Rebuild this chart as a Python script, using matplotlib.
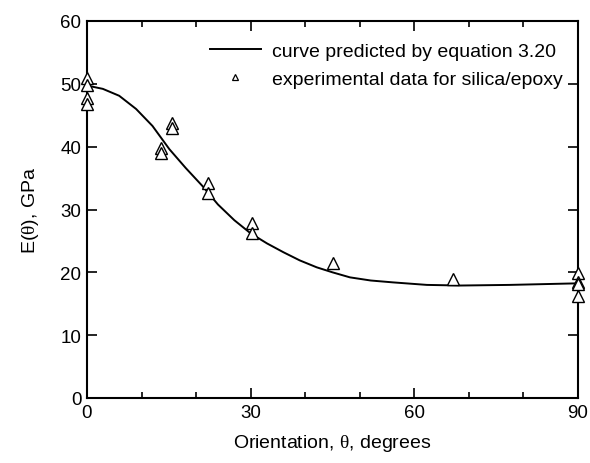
import matplotlib
matplotlib.use("Agg")
import matplotlib.pyplot as plt
from matplotlib.lines import Line2D
from matplotlib.ticker import MultipleLocator

plt.rcParams["font.family"] = ["Liberation Sans", "DejaVu Sans"]
plt.rcParams["mathtext.fontset"] = "custom"
plt.rcParams["mathtext.rm"] = "Liberation Serif"
plt.rcParams["mathtext.it"] = "Liberation Serif"

# Predicted modulus curve, E(theta) in GPa
curve_theta = [0, 0.7, 2.9, 5.9, 9.0, 12.0, 15.1, 18.1, 21.2, 24.0, 27.0,
               30.0, 33.0, 36.0, 39.0, 42.1, 45.0, 48.2, 52.0, 56.1, 62.3,
               68.4, 77.5, 90]
curve_E = [49.7, 49.6, 49.2, 48.1, 46.0, 43.3, 39.6, 36.6, 33.7, 30.8, 28.3,
           26.2, 24.6, 23.2, 21.9, 20.8, 20.0, 19.2, 18.7, 18.4, 18.0,
           17.9, 18.0, 18.25]

# Measured moduli for silica/epoxy
exp_theta = [0, 0, 0, 0, 13.6, 13.6, 15.6, 15.6, 22.1, 22.1, 30.2, 30.2,
             45.1, 67.0, 90, 90, 90, 90]
exp_E = [50.9, 49.8, 47.7, 46.8, 39.8, 39.0, 43.7, 42.9, 34.2, 32.6, 27.9, 26.3,
         21.5, 18.9, 19.9, 18.5, 18.2, 16.3]

fig = plt.figure(figsize=(5.90, 4.64), dpi=100)
ax = fig.add_axes([87 / 590, 65 / 464, 491 / 590, 377 / 464])

ax.plot(curve_theta, curve_E, color="black", lw=1.4, zorder=2)
ax.plot(exp_theta, exp_E, linestyle="none", marker="^", ms=8,
        mfc="white", mec="black", mew=1.0, zorder=3, clip_on=False)

ax.set_xlim(0, 90)
ax.set_ylim(0, 60)
ax.xaxis.set_major_locator(MultipleLocator(30))
ax.xaxis.set_minor_locator(MultipleLocator(10))
ax.yaxis.set_major_locator(MultipleLocator(10))

for s in ax.spines.values():
    s.set_linewidth(1.5)
ax.tick_params(which="both", direction="in", top=True, right=True, width=1.2)
ax.tick_params(which="major", length=7, labelsize=13.5, pad=4)
ax.tick_params(which="minor", length=4)

ax.set_xlabel(r"Orientation, $\mathrm{\theta}$, degrees", fontsize=14, labelpad=8)
ax.set_ylabel(r"E($\mathrm{\theta}$), GPa", fontsize=14, labelpad=14)

handles = [
    Line2D([], [], color="black", lw=1.4),
    Line2D([], [], linestyle="none", marker="^", ms=5, mfc="white",
           mec="black", mew=0.9),
]
labels = ["curve predicted by equation 3.20", "experimental data for silica/epoxy"]
ax.legend(handles, labels, loc="upper right", frameon=False, fontsize=14,
          handlelength=2.6, handletextpad=0.6, labelspacing=0.55,
          bbox_to_anchor=(1.005, 0.99))

fig.savefig("out.png", dpi=100)
